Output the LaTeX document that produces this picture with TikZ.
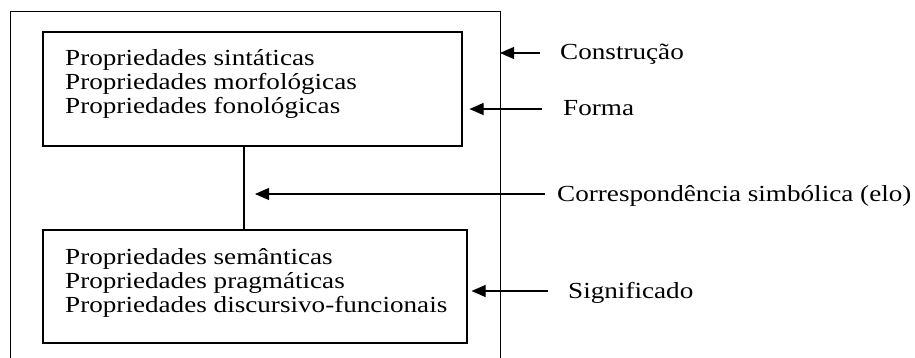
\documentclass[tikz,border=0pt]{standalone}
\usepackage{fontspec}
\setmainfont[FakeStretch=1.18]{Liberation Serif}
\usetikzlibrary{arrows.meta}
\begin{document}
\begin{tikzpicture}[x=1pt,y=-1pt,
  frame/.style={draw=black,line width=1pt},
  panel/.style={draw=black,line width=1.1pt,rectangle,inner sep=0pt},
  prop/.style={anchor=base west,inner sep=0pt,font=\fontsize{23}{24}\selectfont},
  tag/.style={anchor=base west,inner sep=0pt,font=\fontsize{23}{24}\selectfont},
  pointer/.style={draw=black,line width=1.1pt,-{Triangle[length=14pt,width=12pt]}}]
\useasboundingbox (0,0) rectangle (915,358);

% outer frame, open at the bottom
\draw[frame] (10,358) -- (10,12) -- (500,12) -- (500,358);
\coordinate (frameR) at (500,0);

% form and meaning panels
\node[panel,minimum width=419pt,minimum height=114pt] (form) at (252.5,89) {};
\node[panel,minimum width=424pt,minimum height=113pt] (meaning) at (255,286.5) {};

\node[prop] (f1) at (65,66) {Propriedades sintáticas};
\node[prop] (f2) at (65,90) {Propriedades morfológicas};
\node[prop] (f3) at (65,114) {Propriedades fonológicas};

\node[prop] (m1) at (65,264) {Propriedades semânticas};
\node[prop] (m2) at (65,288) {Propriedades pragmáticas};
\node[prop] (m3) at (65,312) {Propriedades discursivo-funcionais};

% symbolic link between the panels
\coordinate (lk) at (244,0);
\draw[line width=1.1pt] (lk |- form.south) -- (lk |- meaning.north);

% labels on the right
\node[tag] (lcon) at (560,60) {Construção};
\node[tag] (lform) at (563,116) {Forma};
\node[tag] (lcor) at (557,201) {Correspondência simbólica (elo)};
\node[tag] (lsig) at (568,298) {Significado};

\coordinate (tcon) at (540,53);
\coordinate (tform) at (542,109);
\coordinate (tcor) at (545,194);
\coordinate (tsig) at (548,291);

\draw[pointer] (tcon) -- (tcon -| frameR);
\draw[pointer] (tform) -- ([xshift=7pt]tform -| form.east);
\draw[pointer] (tcor) -- ([xshift=11pt]tcor -| lk);
\draw[pointer] (tsig) -- ([xshift=4pt]tsig -| meaning.east);
\end{tikzpicture}
\end{document}
